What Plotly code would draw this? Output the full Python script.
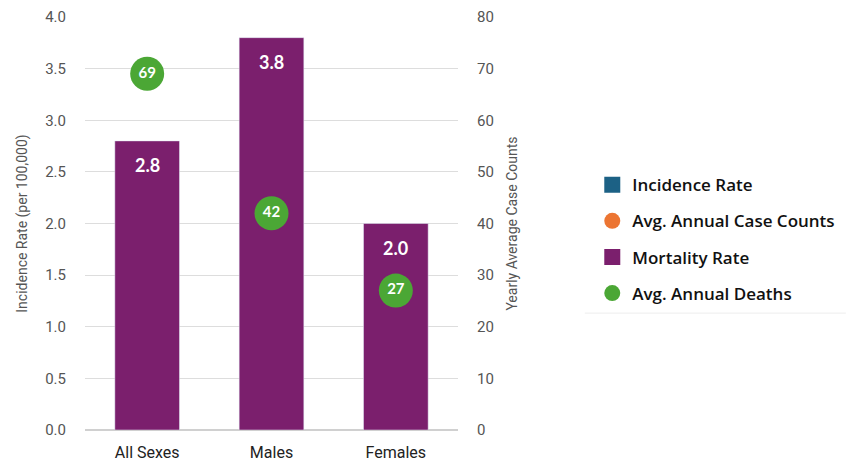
import plotly.graph_objects as go

categories = ["All Sexes", "Males", "Females"]
mortality_rate = [2.8, 3.8, 2.0]
annual_deaths = [69, 42, 27]
left_ticks = [0, 0.5, 1.0, 1.5, 2.0, 2.5, 3.0, 3.5, 4.0]
right_ticks = [0, 10, 20, 30, 40, 50, 60, 70, 80]

PURPLE = "#7b1f6d"
GREEN = "#4ba735"
BLUE = "#1c6185"
ORANGE = "#ec7532"

fig = go.Figure()
# Legend-only entries (larger symbols than bar legend swatches)
fig.add_trace(go.Scatter(x=[None], y=[None], name="Incidence Rate", mode="markers",
                         marker=dict(color=BLUE, size=22, symbol="square"), legendgroup="a"))
fig.add_trace(go.Scatter(x=[None], y=[None], name="Avg. Annual Case Counts", mode="markers",
                         marker=dict(color=ORANGE, size=22), yaxis="y2", legendgroup="b"))
fig.add_trace(go.Scatter(x=[None], y=[None], name="Mortality Rate", mode="markers",
                         marker=dict(color=PURPLE, size=22, symbol="square"), legendgroup="c"))
fig.add_trace(go.Bar(x=categories, y=mortality_rate, name="Mortality Rate", marker_color=PURPLE,
                     width=0.52, showlegend=False, legendgroup="c", hoverinfo="skip"))
fig.add_trace(go.Scatter(x=categories, y=annual_deaths, name="Avg. Annual Deaths", mode="markers+text",
                         marker=dict(color=GREEN, size=34), yaxis="y2", legendgroup="d",
                         text=[str(v) for v in annual_deaths], textposition="middle center",
                         textfont=dict(color="white", size=15, family="Lato", weight="bold")))

for c, v in zip(categories, mortality_rate):
    fig.add_annotation(x=c, y=v, xref="x", yref="y", text=f"{v:.1f}", showarrow=False,
                       yanchor="middle", yshift=-24,
                       font=dict(color="white", size=18, family="Lato", weight="bold"))

fig.update_layout(
    width=857, height=464,
    margin=dict(l=85, r=399, t=17, b=34),
    plot_bgcolor="white", paper_bgcolor="white",
    barmode="overlay",
    font=dict(family="Roboto", color="#555555"),
    xaxis=dict(type="category", range=[-0.5, 2.5], showgrid=False, showline=False, ticks="",
               ticklabelstandoff=11, automargin=False,
               tickfont=dict(size=16, color="#222222", family="Roboto")),
    yaxis=dict(range=[0, 4.0], tickvals=left_ticks, ticktext=[f"{v:.1f}" for v in left_ticks],
               showgrid=True, gridcolor="#dddddd", gridwidth=1, zeroline=True, zerolinecolor="#d0d0d0",
               tickfont=dict(size=15, color="#555555"), ticks="", ticklabelstandoff=18, automargin=False,
               title=dict(text="Incidence Rate (per 100,000)", font=dict(size=14, color="#555555"),
                          standoff=14)),
    yaxis2=dict(range=[0, 80], tickvals=right_ticks, overlaying="y", side="right", showgrid=False,
                zeroline=False, tickfont=dict(size=15, color="#555555"), ticks="", ticklabelstandoff=18,
                automargin=False,
                title=dict(text="Yearly Average Case Counts", font=dict(size=14, color="#555555"),
                           standoff=14)),
    legend=dict(x=1.36, y=0.462, xanchor="left", yanchor="middle", traceorder="grouped",
                tracegroupgap=11,
                font=dict(size=17, color="#111111", family="Open Sans", weight=600),
                itemsizing="trace", bgcolor="rgba(0,0,0,0)"),
    shapes=[dict(type="line", xref="paper", yref="paper", x0=1.34, x1=2.04, y0=0.283, y1=0.283,
                 line=dict(color="#eeeeee", width=1))],
)

fig.write_html("out.html")
